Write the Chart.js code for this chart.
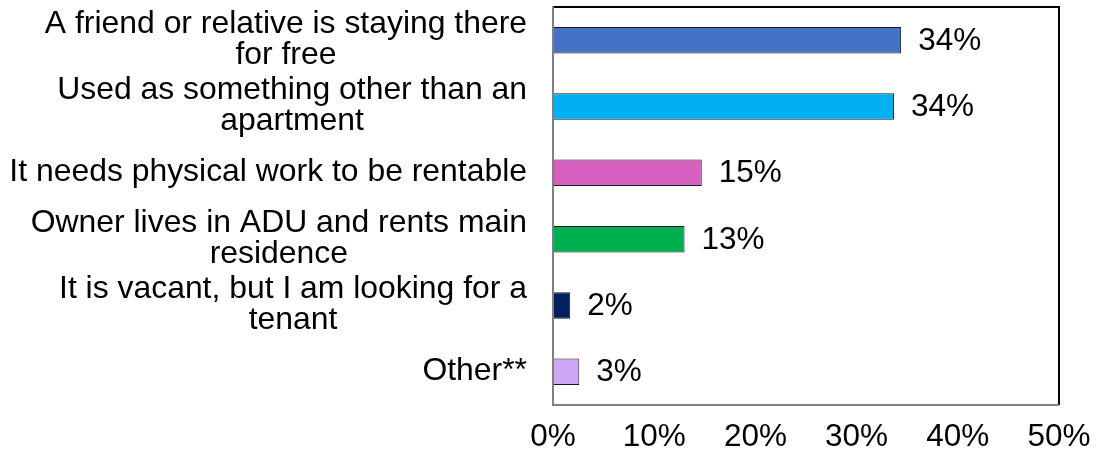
<!DOCTYPE html>
<html>
<head>
<meta charset="utf-8">
<script src="https://cdn.jsdelivr.net/npm/chart.js@4/dist/chart.umd.min.js"></script>
<style>
  html, body { margin: 0; padding: 0; background: #fff; }
  #wrap { width: 1097px; height: 455px; }
</style>
</head>
<body>
<div id="wrap"><canvas id="myChart" width="1097" height="455"></canvas></div>
<script>
// категории (многострочные подписи)
var categories = [
  ['A friend or relative is staying there', 'for free'],
  ['Used as something other than an', 'apartment'],
  ['It needs physical work to be rentable'],
  ['Owner lives in ADU and rents main', 'residence'],
  ['It is vacant, but I am looking for a', 'tenant'],
  ['Other**']
];
var values = [34.4, 33.7, 14.7, 13.0, 1.7, 2.6];
var barColors = ['#4472C4', '#00B0F0', '#D660BF', '#00B050', '#002060', '#CCA8F2'];
var xTicks = [0, 10, 20, 30, 40, 50];

var FONT = "'Liberation Sans', Arial, Helvetica, sans-serif";
var FONT_SIZE = 31.5;
var LABEL_SIZE = 31.9;

// подписи категорий: блок выровнен вправо, строки по центру блока
var categoryLabels = {
  id: 'categoryLabels',
  afterDraw: function(chart) {
    var ctx = chart.ctx;
    var yScale = chart.scales.y;
    var rightEdge = 527;
    var lineGap = 31;
    ctx.save();
    ctx.font = LABEL_SIZE + 'px ' + FONT;
    ctx.fillStyle = '#000';
    ctx.textAlign = 'center';
    ctx.textBaseline = 'alphabetic';
    categories.forEach(function(lines, i) {
      var cy = yScale.getPixelForTick(i) - 3;
      var maxW = 0;
      lines.forEach(function(l) { maxW = Math.max(maxW, ctx.measureText(l).width); });
      var cx = rightEdge - maxW / 2;
      lines.forEach(function(l, j) {
        var y = cy + (j - (lines.length - 1) / 2) * lineGap + 11.4;
        ctx.fillText(l, cx, y);
      });
    });
    ctx.restore();
  }
};

// значения справа от столбцов
var valueLabels = {
  id: 'valueLabels',
  afterDatasetsDraw: function(chart) {
    var ctx = chart.ctx;
    var meta = chart.getDatasetMeta(0);
    ctx.save();
    ctx.font = FONT_SIZE + 'px ' + FONT;
    ctx.fillStyle = '#000';
    ctx.textAlign = 'left';
    ctx.textBaseline = 'alphabetic';
    meta.data.forEach(function(bar, i) {
      ctx.fillText(Math.round(values[i]) + '%', bar.x + 17, bar.y + 9.5);
    });
    ctx.restore();
  }
};

// рамка области построения
var plotFrame = {
  id: 'plotFrame',
  afterDatasetsDraw: function(chart) {
    var a = chart.chartArea;
    var ctx = chart.ctx;
    ctx.save();
    ctx.lineWidth = 2;
    ctx.strokeStyle = '#000';
    ctx.beginPath();
    ctx.moveTo(a.left, a.top);
    ctx.lineTo(a.right, a.top);
    ctx.lineTo(a.right, a.bottom);
    ctx.stroke();
    ctx.strokeStyle = '#808080';
    ctx.beginPath();
    ctx.moveTo(a.right, a.bottom);
    ctx.lineTo(a.left, a.bottom);
    ctx.lineTo(a.left, a.top - 1);
    ctx.stroke();
    ctx.restore();
  }
};

var ctx = document.getElementById('myChart').getContext('2d');
var myChart = new Chart(ctx, {
  type: 'bar',
  data: {
    labels: categories,
    datasets: [{
      data: values,
      backgroundColor: barColors,
      borderColor: '#1a1a1a',
      borderWidth: 1,
      borderSkipped: false,
      barPercentage: 0.4,
      categoryPercentage: 1
    }]
  },
  options: {
    indexAxis: 'y',
    responsive: false,
    animation: false,
    layout: { padding: { top: 7, right: 38, left: 0, bottom: 0 } },
    plugins: {
      legend: { display: false },
      tooltip: { enabled: false }
    },
    scales: {
      x: {
        min: 0,
        max: 50,
        afterBuildTicks: function(scale) {
          scale.ticks = xTicks.map(function(v) { return { value: v }; });
        },
        afterFit: function(scale) {
          scale.height = 50;
          scale.paddingLeft = 0;
          scale.paddingRight = 0;
        },
        grid: { display: false, drawTicks: false },
        border: { display: false },
        ticks: {
          padding: 13,
          maxRotation: 0,
          color: '#000',
          font: { family: FONT, size: FONT_SIZE },
          callback: function(v) { return v + '%'; }
        }
      },
      y: {
        afterFit: function(scale) { scale.width = 553; },
        grid: { display: false, drawTicks: false },
        border: { display: false },
        ticks: { display: false }
      }
    }
  },
  plugins: [categoryLabels, valueLabels, plotFrame]
});
</script>
</body>
</html>
